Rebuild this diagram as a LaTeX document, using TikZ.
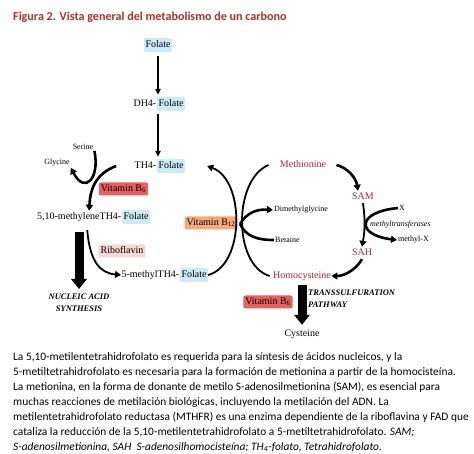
\documentclass[tikz,border=0pt]{standalone}
\usepackage{fontspec}
\setmainfont{Liberation Serif}
\newfontfamily\capfont{Carlito}
\usetikzlibrary{arrows.meta,positioning}
\definecolor{folblue}{RGB}{204,235,247}
\definecolor{vitred}{RGB}{232,96,94}
\definecolor{vitorange}{RGB}{246,168,120}
\definecolor{ribopink}{RGB}{247,214,214}
\definecolor{metred}{RGB}{178,34,52}
\definecolor{titlered}{RGB}{176,48,40}

\begin{document}
\begin{tikzpicture}[
  x=1pt, y=-1pt,
  font=\fontsize{10}{12}\selectfont,
  txt/.style={inner xsep=0.3pt, inner ysep=1.5pt, text height=7pt, text depth=2pt},
  fol/.style={txt, fill=folblue, rounded corners=1.5pt, inner xsep=1.5pt, inner ysep=2.5pt},
  vit/.style={txt, rounded corners=2pt, inner xsep=2pt, inner ysep=2pt},
  vB/.style={vit, fill=vitred},
  vBB/.style={vit, fill=vitorange},
  ribo/.style={vit, fill=ribopink},
  met/.style={txt, text=metred},
  small/.style={font=\fontsize{8}{9}\selectfont, inner sep=1pt},
  pathway/.style={font=\fontsize{8.5}{12}\selectfont\bfseries\itshape, inner sep=0pt},
  thin/.style={line width=1.3pt, -{Triangle[length=6pt,width=5.5pt]}},
  arc/.style={line width=1.8pt},
  bold/.style={line width=2.6pt},
  head/.style={-{Triangle[length=6pt,width=7pt]}},
  bigarr/.style={line width=9pt, -{Triangle[length=10pt,width=16pt,line width=0pt]}}
]
\path[use as bounding box, fill=white] (0,0) rectangle (474,454);

% title
\node[anchor=base west, inner sep=0pt, text=titlered,
      font=\capfont\bfseries\fontsize{12.1}{14}\selectfont] (title) at (13,21)
  {Figura 2. Vista general del metabolismo de un carbono};

% folate column
\node[fol] (folate) at (158,45) {Folate};
\node[fol] (dh4f) at (171,104) {Folate};
\node[txt, left=0pt of dh4f] (dh4) {DH4-};
\node[fol] (th4f) at (171,166) {Folate};
\node[txt, left=0pt of th4f] (th4) {TH4-};
\node[small] (ser) at (83,147) {Serine};
\node[small] (gly) at (57,163) {Glycine};
\node[vB] (b6a) at (123.5,189) {Vitamin B\textsubscript{6}};
\node[fol] (m510f) at (136,217) {Folate};
\node[txt, left=0pt of m510f] (m510) {5,10-methyleneTH4-};
\node[ribo] (ribo) at (122,251) {Riboflavin};
\node[fol] (m5f) at (194,275) {Folate};
\node[txt, left=0pt of m5f] (m5) {5-methylTH4-};
\node[pathway, align=center] (nas) at (79,303) {NUCLEIC ACID\\SYNTHESIS};

% methionine cycle
\node[vBB] (b12) at (211,223) {Vitamin B\textsubscript{12}};
\node[small, anchor=west] (dmg) at (273,210) {Dimethylglycine};
\node[small, anchor=west] (bet) at (274,240) {Betaine};
\node[met] (met) at (303,165) {Methionine};
\node[met] (sam) at (363,197) {SAM};
\node[met] (sah) at (362,253) {SAH};
\node[met] (hcy) at (302,276) {Homocysteine};
\node[small, anchor=west] (x) at (398,208) {X};
\node[small, anchor=west, font=\fontsize{8}{9}\selectfont\itshape] (mtf) at (369,225) {methyltransferases};
\node[small, anchor=west] (mx) at (397,240) {methyl-X};
\node[vB] (b6b) at (268,302) {Vitamin B\textsubscript{6}};
\node[pathway, align=left, anchor=north west] (tsp) at (308,290) {TRANSSULFURATION\\PATHWAY};
\node[txt] (cys) at (302,334) {Cysteine};

% caption
\node[anchor=north west, inner sep=0pt, align=left,
      font=\capfont\fontsize{11.4}{15}\selectfont] (caption) at (13,352)
  {La 5,10-metilentetrahidrofolato es requerida para la síntesis de ácidos nucleicos, y la\\
   5-metiltetrahidrofolato es necesaria para la formación de metionina a partir de la homocisteína.\\
   La metionina, en la forma de donante de metilo S-adenosilmetionina (SAM), es esencial para\\
   muchas reacciones de metilación biológicas, incluyendo la metilación del ADN. La\\
   metilentetrahidrofolato reductasa (MTHFR) es una enzima dependiente de la riboflavina y FAD que\\
   cataliza la reducción de la 5,10-metilentetrahidrofolato a 5-metiltetrahidrofolato. \textit{SAM;}\\
   \textit{S-adenosilmetionina, SAH\ \ S-adenosilhomocisteína; TH\textsubscript{4}-folato, Tetrahidrofolato.}};

% folate column arrows
\draw[thin, shorten <=4pt, shorten >=3pt] (folate.south) -- (folate.south |- dh4.north);
\draw[thin, shorten <=4pt, shorten >=3pt] (folate.south |- dh4.south) -- (folate.south |- th4.north);

% serine / glycine
\draw[bold, head] (ser.south east) .. controls (100,178) and (85,195) .. (gly.south east);
\draw[bold, head] ([xshift=-18pt]th4.west) .. controls (95,174) and (90,190) .. ([xshift=10pt]m510.north);

% nucleic acid synthesis
\draw[bigarr, shorten <=9pt, shorten >=5pt] (nas.north |- m510.south) -- (nas.north);

% riboflavin
\draw[arc, head] ([xshift=8pt,yshift=-7pt]m510.south) .. controls (90,262) and (100,273) .. (m5.west);

% folate / methionine arcs
\draw[arc, head] (m5f.east) .. controls (245,265) and (245,180) .. ([xshift=22pt]th4f.east);
\draw[arc] ([xshift=-3pt]hcy.west) .. controls (233,265) and (233,180) .. ([xshift=-11pt]met.west);

\coordinate (jb) at (240,224);
\draw[bold, head] (jb) .. controls (247,212) and (258,209) .. (dmg.west);
\draw[bold] (bet.west) .. controls (256,240) and (246,236) .. (jb);

% methionine cycle arrows
\draw[bold, head] ([xshift=10pt]met.east) .. controls (348,168) and (356,178) .. ([xshift=-5pt]sam.north);
\draw[arc, head] (sam.south) .. controls (366,225) and (364,235) .. (sah.north);
\draw[bold, head] (x.west) .. controls (356,212) and (356,235) .. (mx.west);
\draw[bold, head] (sah.south) .. controls (357,268) and (346,276) .. (hcy.east);

% transsulfuration
\draw[bigarr, shorten <=3pt, shorten >=3pt] (hcy.south -| cys.north) -- (cys.north);
\end{tikzpicture}
\end{document}
